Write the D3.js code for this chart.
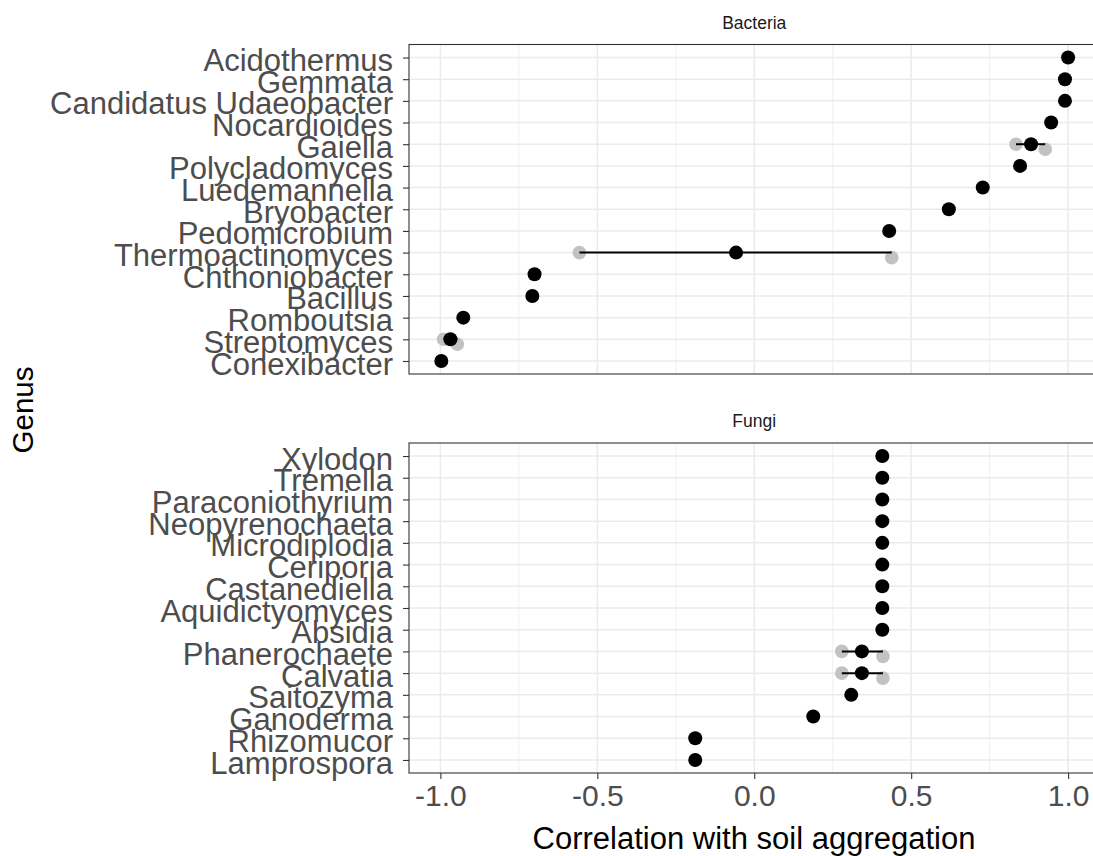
<!DOCTYPE html>
<html>
<head>
<meta charset="utf-8">
<script src="https://cdn.jsdelivr.net/npm/d3@7"></script>
<style>
  body { margin: 0; background: #fff; }
  svg { display: block; font-family: "Liberation Sans", Arial, Helvetica, sans-serif; }
</style>
</head>
<body>
<svg id="chart" width="1093" height="856"></svg>
<script>
// ---------- data ----------
const bacteriaGenus = ["Acidothermus","Gemmata","Candidatus Udaeobacter","Nocardioides","Gaiella","Polycladomyces","Luedemannella","Bryobacter","Pedomicrobium","Thermoactinomyces","Chthoniobacter","Bacillus","Romboutsia","Streptomyces","Conexibacter"];
const bacteriaMean  = [1.0, 0.99, 0.99, 0.946, 0.882, 0.847, 0.728, 0.62, 0.43, -0.058, -0.70, -0.707, -0.927, -0.968, -0.997];
const bacteriaMin   = [null, null, null, null, 0.834, null, null, null, null, -0.557, null, null, null, -0.99, null];
const bacteriaMax   = [null, null, null, null, 0.927, null, null, null, null, 0.438, null, null, null, -0.946, null];

const fungiGenus = ["Xylodon","Tremella","Paraconiothyrium","Neopyrenochaeta","Microdiplodia","Ceriporia","Castanediella","Aquidictyomyces","Absidia","Phanerochaete","Calvatia","Saitozyma","Ganoderma","Rhizomucor","Lamprospora"];
const fungiMean = [0.408, 0.408, 0.408, 0.408, 0.408, 0.408, 0.408, 0.408, 0.408, 0.343, 0.343, 0.309, 0.188, -0.188, -0.188];
const fungiMin  = [null, null, null, null, null, null, null, null, null, 0.279, 0.279, null, null, null, null];
const fungiMax  = [null, null, null, null, null, null, null, null, null, 0.41, 0.41, null, null, null, null];

const xTicks = [-1.0, -0.5, 0.0, 0.5, 1.0];
const xMinor = [-0.75, -0.25, 0.25, 0.75];
const xDomain = [-1.1, 1.1];

const panels = [
  { title: "Bacteria", genus: bacteriaGenus, mean: bacteriaMean, min: bacteriaMin, max: bacteriaMax },
  { title: "Fungi", genus: fungiGenus, mean: fungiMean, min: fungiMin, max: fungiMax }
];

// ---------- layout ----------
const svg = d3.select("#chart");
const left = 409, right = 1099.5;
const panelBoxes = [{ top: 44.5, bottom: 374 }, { top: 443, bottom: 773 }];
const x = d3.scaleLinear().domain(xDomain).range([left, right]);
const gridCol = "#ebebeb";
const textCol = "#4d4d4d";
const maxOffset = 5;

panels.forEach((p, i) => {
  const box = panelBoxes[i];
  const y = d3.scalePoint().domain(p.genus).range([box.top, box.bottom]).padding(0.6);
  const g = svg.append("g");

  // grid
  g.selectAll(".minor").data(xMinor).join("line")
    .attr("x1", d => x(d)).attr("x2", d => x(d)).attr("y1", box.top).attr("y2", box.bottom)
    .attr("stroke", gridCol).attr("stroke-width", 0.8);
  g.selectAll(".hgrid").data(p.genus).join("line")
    .attr("x1", left).attr("x2", right).attr("y1", d => y(d)).attr("y2", d => y(d))
    .attr("stroke", gridCol).attr("stroke-width", 1.5);
  g.selectAll(".major").data(xTicks).join("line")
    .attr("x1", d => x(d)).attr("x2", d => x(d)).attr("y1", box.top).attr("y2", box.bottom)
    .attr("stroke", gridCol).attr("stroke-width", 1.5);

  const rows = p.genus.map((name, k) => ({ name, mean: p.mean[k], min: p.min[k], max: p.max[k] }));
  const ranged = rows.filter(r => r.min !== null);

  // grey extremes
  g.selectAll(".gmin").data(ranged).join("circle")
    .attr("cx", d => x(d.min)).attr("cy", d => y(d.name)).attr("r", 6.8).attr("fill", "#c2c2c2");
  g.selectAll(".gmax").data(ranged).join("circle")
    .attr("cx", d => x(d.max)).attr("cy", d => y(d.name) + maxOffset).attr("r", 6.8).attr("fill", "#c2c2c2");
  // segments
  g.selectAll(".seg").data(ranged).join("line")
    .attr("x1", d => x(d.min)).attr("x2", d => x(d.max))
    .attr("y1", d => y(d.name)).attr("y2", d => y(d.name))
    .attr("stroke", "#000").attr("stroke-width", 2);
  // means
  g.selectAll(".mean").data(rows).join("circle")
    .attr("cx", d => x(d.mean)).attr("cy", d => y(d.name)).attr("r", 7).attr("fill", "#000");

  // border
  g.append("rect").attr("x", left).attr("y", box.top)
    .attr("width", right - left).attr("height", box.bottom - box.top)
    .attr("fill", "none").attr("stroke", "#333").attr("stroke-width", 1.1);

  // y axis
  const yAxis = d3.axisLeft(y).tickSize(6).tickPadding(10);
  const ya = g.append("g").attr("transform", `translate(${left},0)`).call(yAxis);
  ya.select(".domain").remove();
  ya.selectAll(".tick line").attr("stroke", "#333").attr("stroke-width", 1.1);
  ya.selectAll(".tick text").attr("fill", textCol).style("font-size", "31px")
    .attr("dy", "0.42em");

  // strip
  svg.append("text").attr("x", (left + right) / 2).attr("y", box.top - 22)
    .attr("text-anchor", "middle").attr("dominant-baseline", "central")
    .attr("fill", "#1a1a1a").style("font-size", "17.5px").text(p.title);

  if (i === 1) {
    const xAxis = d3.axisBottom(x).tickValues(xTicks).tickFormat(d3.format(".1f")).tickSize(6).tickPadding(6);
    const xa = svg.append("g").attr("transform", `translate(0,${box.bottom})`).call(xAxis);
    xa.select(".domain").remove();
    xa.selectAll(".tick line").attr("stroke", "#333").attr("stroke-width", 1.1);
    xa.selectAll(".tick text").attr("fill", textCol).style("font-size", "30px")
      .text(d => d3.format(".1f")(d).replace("−", "-"));
  }
});

// axis titles
svg.append("text").attr("x", 754).attr("y", 838).attr("text-anchor", "middle")
  .attr("dominant-baseline", "central").attr("fill", "#000").style("font-size", "31px")
  .text("Correlation with soil aggregation");
svg.append("text").attr("transform", "translate(22,410) rotate(-90)").attr("text-anchor", "middle")
  .attr("dominant-baseline", "central").attr("fill", "#000").style("font-size", "29.5px")
  .text("Genus");
</script>
</body>
</html>
